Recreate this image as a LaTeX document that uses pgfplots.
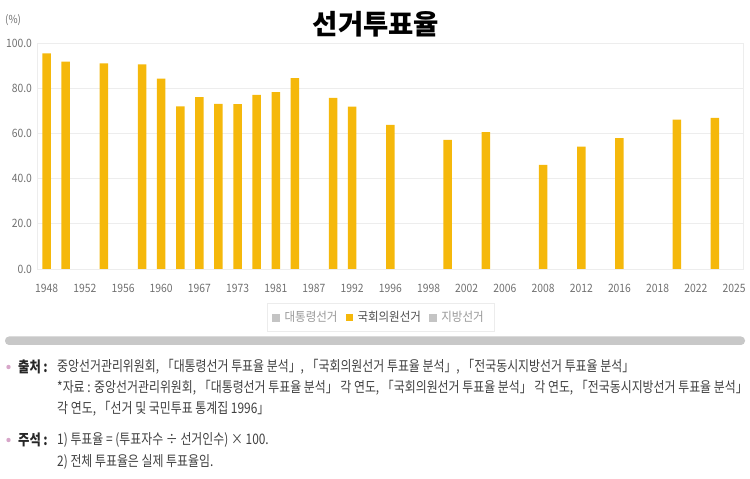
\documentclass[border=0pt]{standalone}
\usepackage{pgfplots}
\pgfplotsset{compat=1.18}
\usepackage{fontspec}
\setmainfont{Noto Sans CJK KR}
\newfontfamily\narrowfont[FakeStretch=0.9]{Noto Sans CJK KR}
\newfontfamily\legfont[FakeStretch=0.92]{Noto Sans CJK KR}
\newfontfamily\notefont[FakeStretch=0.822]{Noto Sans CJK KR}

\definecolor{barcol}{HTML}{F5B80B}
\definecolor{gridcol}{HTML}{EDEDED}
\definecolor{tickgray}{HTML}{707070}
\definecolor{leggray}{HTML}{C4C4C4}
\definecolor{legtext}{HTML}{9A9A9A}
\definecolor{legactive}{HTML}{505050}
\definecolor{notetext}{HTML}{404040}
\definecolor{bulletcol}{HTML}{D7A6C9}
\definecolor{scrollcol}{HTML}{C8C8C8}
\definecolor{legbox}{HTML}{ECECEC}

% turnout of the National Assembly elections; x = slot on the election calendar
\pgfplotstableread{
slot turnout
0  95.5
1  91.9
3  91.1
5  90.7
6  84.3
7  72.1
8  76.1
9  73.2
10 73.0
11 77.1
12 78.4
13 84.6
15 75.8
16 71.9
18 63.9
21 57.2
23 60.6
26 46.1
28 54.2
30 58.0
33 66.2
35 67.0
}\assembly

\begin{document}
\begin{tikzpicture}
\path (0pt,0pt) rectangle (750pt,479pt);

\begin{axis}[
  at={(37.1pt,210pt)}, anchor=south west,
  scale only axis, width=706.5pt, height=225.7pt,
  xmin=-0.5, xmax=36.5, ymin=0, ymax=100,
  ybar, bar width=8.5pt,
  xtick={0,2,...,36},
  xticklabels={1948,1952,1956,1960,1967,1973,1981,1987,1992,1996,1998,2002,2006,2008,2012,2016,2018,2022,2025},
  ytick={0,20,40,60,80,100},
  /pgf/number format/fixed,
  /pgf/number format/fixed zerofill,
  /pgf/number format/precision=1,
  /pgf/number format/assume math mode=true,
  ymajorgrids, grid style={draw=gridcol, line width=0.8pt},
  axis line style={draw=gridcol},
  major tick length=0pt,
  tick style={draw=none},
  ticklabel style={font=\narrowfont\fontsize{11.5}{13}\selectfont, text=tickgray},
  yticklabel style={inner sep=0pt, xshift=-5pt},
  xticklabel style={anchor=north, inner sep=0pt, yshift=-15pt, text height=8pt, text depth=0pt},
  legend columns=3,
  legend style={at={(0.486,-0.215)}, anchor=center, draw=legbox,
    font=\legfont\fontsize{12.5}{14}\selectfont, text=legtext,
    inner xsep=5pt, inner ysep=6pt,
    nodes={inner xsep=5pt},
    /tikz/every even column/.append style={column sep=3pt}},
]
\addlegendimage{legend image code/.code={\fill[leggray] (0pt,-3.5pt) rectangle (7pt,3.5pt);}}
\addlegendentry{대통령선거}
\addplot[fill=barcol, draw=none,
  legend image code/.code={\fill[barcol] (0pt,-3.5pt) rectangle (7pt,3.5pt);}]
  table[x=slot, y=turnout] {\assembly};
\addlegendentry{\textcolor{legactive}{국회의원선거}}
\addlegendimage{legend image code/.code={\fill[leggray] (0pt,-3.5pt) rectangle (7pt,3.5pt);}}
\addlegendentry{지방선거}
\end{axis}

\begin{scope}[x=1pt,y=1pt]
  % title and unit
  \node[font=\bfseries\fontsize{27.5}{30}\selectfont] at (376,455) {선거투표율};
  \node[anchor=west, inner sep=0pt, text=tickgray, font=\narrowfont\fontsize{11}{12}\selectfont] at (5,458.5) {(\%)};
  % scroll bar
  \fill[scrollcol, rounded corners=4pt] (5,134) rectangle (745,142.5);
  % notes
  \begin{scope}[every node/.style={anchor=west, inner sep=0pt, text=notetext, font=\notefont\fontsize{14.5}{16}\selectfont}]
    \fill[bulletcol] (8.5,112) circle (2.2);
    \node[font=\notefont\bfseries\fontsize{15}{16}\selectfont, text=black!85] at (18,112) {출처\,:};
    \node at (57,112) {중앙선거관리위원회, 「대통령선거 투표율 분석」, 「국회의원선거 투표율 분석」, 「전국동시지방선거 투표율 분석」};
    \node at (57,91) {*자료 : 중앙선거관리위원회, 「대통령선거 투표율 분석」 각 연도, 「국회의원선거 투표율 분석」 각 연도, 「전국동시지방선거 투표율 분석」};
    \node at (57,70) {각 연도, 「선거 및 국민투표 통계집 1996」};
    \fill[bulletcol] (8.5,39) circle (2.2);
    \node[font=\notefont\bfseries\fontsize{15}{16}\selectfont, text=black!85] at (18,39) {주석\,:};
    \node at (57,39) {1) 투표율 = (투표자수 ÷ 선거인수) × 100.};
    \node at (57,17) {2) 전체 투표율은 실제 투표율임.};
  \end{scope}
\end{scope}
\end{tikzpicture}
\end{document}
